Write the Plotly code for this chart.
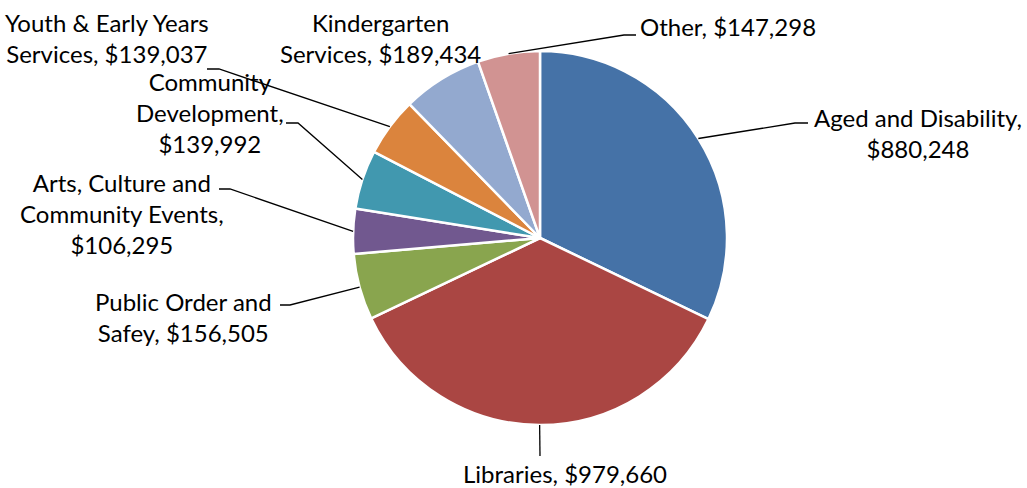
import math
import plotly.graph_objects as go

# Program spending by service area
categories = [
    "Aged and Disability",
    "Libraries",
    "Public Order and\nSafey",
    "Arts, Culture and\nCommunity Events",
    "Community\nDevelopment",
    "Youth & Early Years\nServices",
    "Kindergarten\nServices",
    "Other",
]
values = [880248, 979660, 156505, 106295, 139992, 139037, 189434, 147298]
# whether the dollar amount sits on its own line in the label
amount_on_new_line = [True, False, False, True, True, False, False, False]
colors = ["#4572A7", "#AA4643", "#89A54E", "#71588F",
          "#4198AF", "#DB843D", "#93A9CF", "#D19392"]

W, H = 1027, 488
CX, CY, R = 540, 238, 187  # pie centre / radius in pixels

# label block centres (px) and leader-line elbow points (px); None = no leader
label_pos = [(918, 133), (565, 473), (183, 317), (122, 213),
             (210, 112), (107, 38), (380, 38), (728, 27)]
elbows = [
    [(795, 123), (808, 123)],
    [(540, 456)],
    [(290, 305), (280, 305)],
    [(230, 189), (219, 189)],
    [(298, 123), (286, 123)],
    [(219, 69), (207, 69)],
    None,
    [(624, 35), (636, 35)],
]

FONT = "Lato, 'Open Sans', sans-serif"


def px(x, y):
    return x / W, 1 - y / H


fig = go.Figure(go.Pie(
    labels=[c.replace("\n", " ") for c in categories],
    values=values,
    sort=False,
    direction="clockwise",
    rotation=0,
    marker=dict(colors=colors, line=dict(color="white", width=2.5)),
    textinfo="none",
    hovertemplate="%{label}: $%{value:,}<extra></extra>",
    domain=dict(x=[(CX - R) / W, (CX + R) / W], y=[1 - (CY + R) / H, 1 - (CY - R) / H]),
    showlegend=False,
))

total = sum(values)
shapes, annotations = [], []
cum = 0.0
for name, v, nl, (lx, ly), elb in zip(categories, values, amount_on_new_line, label_pos, elbows):
    mid = (cum + v / 2) / total * 2 * math.pi
    cum += v
    text = name.replace("\n", "<br>") + "," + ("<br>" if nl else " ") + f"${v:,}"
    annotations.append(dict(
        x=lx / W, y=1 - ly / H, xref="paper", yref="paper",
        text=text, showarrow=False, xanchor="center", yanchor="middle",
        align="center", font=dict(family=FONT, size=24, color="#000000"),
    ))
    if elb:
        rx, ry = CX + R * math.sin(mid), CY - R * math.cos(mid)
        pts = [px(rx, ry)] + [px(*p) for p in elb]
        path = "M " + " L ".join(f"{x:.5f},{y:.5f}" for x, y in pts)
        shapes.append(dict(type="path", path=path, xref="paper", yref="paper",
                           line=dict(color="#000000", width=1.3)))

fig.update_layout(
    width=W, height=H,
    margin=dict(l=0, r=0, t=0, b=0),
    paper_bgcolor="white", plot_bgcolor="white",
    shapes=shapes, annotations=annotations,
)

fig.write_html("out.html")
